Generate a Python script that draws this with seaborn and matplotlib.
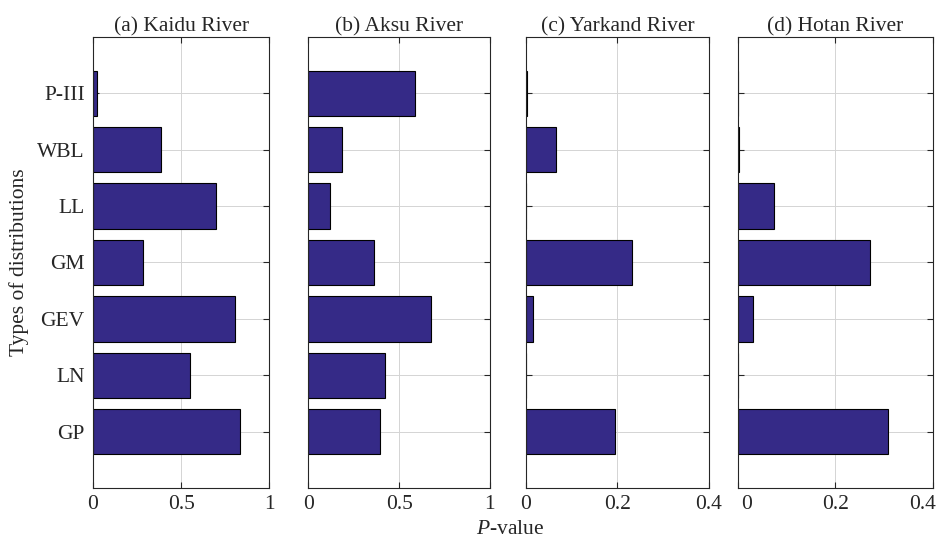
import matplotlib
matplotlib.use('Agg')
import matplotlib.pyplot as plt
import matplotlib.transforms as mtransforms
import pandas as pd
import seaborn as sns

# Data
dists = ['P-III', 'WBL', 'LL', 'GM', 'GEV', 'LN', 'GP']
rivers = ['(a) Kaidu River', '(b) Aksu River', '(c) Yarkand River', '(d) Hotan River']
kaidu = [0.02, 0.386, 0.698, 0.285, 0.807, 0.548, 0.834]
aksu = [0.587, 0.185, 0.118, 0.363, 0.674, 0.42, 0.396]
yarkand = [0.002, 0.065, 0.0, 0.232, 0.016, 0.0, 0.195]
hotan = [0.0, 0.003, 0.074, 0.272, 0.031, 0.0, 0.307]
xlims = [1, 1, 0.4, 0.4]
xticks = [[0, 0.5, 1], [0, 0.5, 1], [0, 0.2, 0.4], [0, 0.2, 0.4]]
xticklabels = [['0', '0.5', '1'], ['0', '0.5', '1'], ['0', '0.2', '0.4'], ['0', '0.2', '0.4']]

df = pd.DataFrame({
    'river': [r for r in rivers for _ in dists],
    'dist': dists * 4,
    'p': kaidu + aksu + yarkand + hotan,
})

sns.set_style('white')
plt.rcParams['font.family'] = ['Liberation Serif', 'DejaVu Serif']
plt.rcParams['mathtext.fontset'] = 'custom'
plt.rcParams['mathtext.rm'] = 'Liberation Serif'
plt.rcParams['mathtext.it'] = 'Liberation Serif:italic'

fs = 15.5
fig = plt.figure(figsize=(9.37, 5.39), dpi=100)

# axes positions (left, width) in figure fractions
lefts = [0.0993, 0.329, 0.5614, 0.7873]
widths = [0.1882, 0.1939, 0.195, 0.2084]
bottom, height = 0.0941, 0.8378

bar_color = '#352a87'
axis_color = '#262626'

for i, river in enumerate(rivers):
    ax = fig.add_axes([lefts[i], bottom, widths[i], height])
    sub = df[df['river'] == river]
    sns.barplot(data=sub, x='p', y='dist', order=dists, orient='h',
                color=bar_color, saturation=1, edgecolor='black',
                linewidth=0.8, width=0.8, ax=ax)
    ax.set_xlim(0, xlims[i])
    ax.set_ylim(len(dists), -1)
    ax.set_xticks(xticks[i])
    ax.set_xticklabels(xticklabels[i])
    ax.set_xlabel('')
    ax.set_ylabel('')
    ax.grid(True, color='#d4d4d4', linewidth=0.7)
    ax.set_axisbelow(True)
    ax.tick_params(direction='in', length=4, width=0.8, color=axis_color,
                   top=True, right=True, bottom=True, left=True,
                   labelsize=fs, pad=6)
    ax.tick_params(axis='x', pad=5)
    for s in ax.spines.values():
        s.set_color(axis_color)
        s.set_linewidth(0.8)
        s.set_visible(True)
    ax.set_title(river, fontsize=fs, pad=4)
    if i == 0:
        ax.set_ylabel('Types of distributions', fontsize=fs, labelpad=6)
    else:
        ax.tick_params(labelleft=False)
    if i == 3:
        # end labels sit slightly inward in the reference
        labels = ax.get_xticklabels()
        labels[0].set_transform(labels[0].get_transform() +
                                mtransforms.ScaledTranslation(0.09, 0, fig.dpi_scale_trans))
        labels[-1].set_transform(labels[-1].get_transform() +
                                 mtransforms.ScaledTranslation(-0.10, 0, fig.dpi_scale_trans))

fig.text(0.5443, 0.009, '$P$-value', fontsize=fs, ha='center', va='baseline')

fig.savefig('out.png', dpi=100)
